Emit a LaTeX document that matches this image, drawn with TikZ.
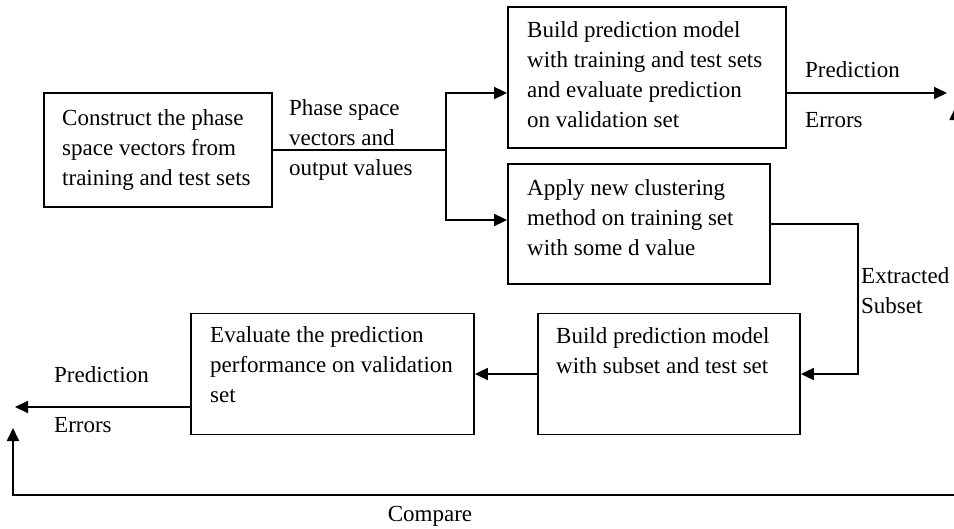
\documentclass[tikz,border=0pt]{standalone}
\usepackage{fontspec}
\setmainfont{Liberation Serif}
\usetikzlibrary{arrows.meta}
\begin{document}
\begin{tikzpicture}[x=1pt,y=-1pt,
  box/.style={draw, line width=1.8pt, inner sep=0pt},
  txt/.style={anchor=base west, align=left, inner sep=0pt, font=\fontsize{23}{30}\selectfont},
  conn/.style={line width=1.8pt, -{Triangle[length=13pt,width=12pt]}},
  conn2/.style={line width=1.8pt, {Triangle[length=13pt,width=12pt]}-{Triangle[length=13pt,width=12pt]}}]
\useasboundingbox (0,0) rectangle (954,528);
\fill[white] (0,0) rectangle (954,528);
% boxes
\node[box, minimum width=228pt, minimum height=114pt] (A) at (158,150) {};
\node[box, minimum width=278pt, minimum height=141pt] (B) at (647,77.5) {};
\node[box, minimum width=262pt, minimum height=120pt] (C) at (639,224) {};
\node[box, minimum width=262pt, minimum height=121pt] (D) at (669,374) {};
\node[box, minimum width=283pt, minimum height=121pt] (E) at (332.5,374) {};
% box texts (anchored on the baseline of the last line)
\node[txt] (At) at (62,185) {Construct the phase\\space vectors from\\training and test sets};
\node[txt] (Bt) at (527,127) {Build prediction model\\with training and test sets\\and evaluate prediction\\on validation set};
\node[txt] (Ct) at (527,255) {Apply new clustering\\method on training set\\with some d value};
\node[txt] (Dt) at (556,373) {Build prediction model\\with subset and test set};
\node[txt] (Et) at (210,402) {Evaluate the prediction\\performance on validation\\set};
% coordinates
\coordinate (split) at (446,150);
\coordinate (outR) at (947,93);
\coordinate (outL) at (15,407);
\coordinate (cmpL) at (13,428);
\coordinate (cmpBL) at (13,495);
\coordinate (cmpBR) at (955.5,495);
\coordinate (cmpR) at (955.5,107);
% connectors
\draw[conn] (A.east) -- (split) |- (B.west |- 0,93);
\draw[conn] (split) |- (C.west |- 0,220);
\draw[conn] (B.east |- 0,93) -- (outR);
\draw[conn] (C.east) -- ++(87,0) |- (D.east);
\draw[conn] (D.west) -- (E.east);
\draw[conn] (E.west |- 0,407) -- (outL);
\begin{scope}
\clip (0,0) rectangle (954,528);
\draw[conn2] (cmpL) -- (cmpBL) -- (cmpBR) -- (cmpR);
\end{scope}
% labels
\node[txt] (lblPS) at (289,175) {Phase space\\vectors and\\output values};
\node[txt] (lblP1) at (805,77) {Prediction};
\node[txt] (lblE1) at (805,127) {Errors};
\node[txt] (lblP2) at (54,382) {Prediction};
\node[txt] (lblE2) at (54,432) {Errors};
\node[txt] (lblX) at (861,313) {Extracted\\Subset};
\node[txt, anchor=base] (lblC) at (430,521) {Compare};
\end{tikzpicture}
\end{document}
